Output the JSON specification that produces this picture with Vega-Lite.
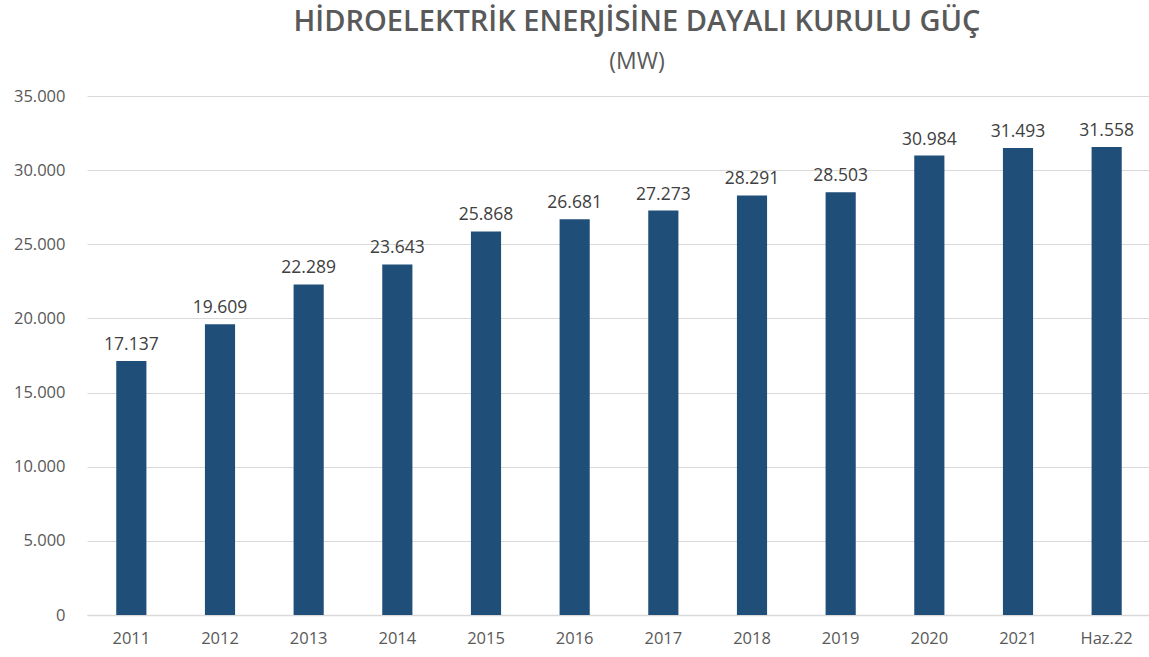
{
  "$schema": "https://vega.github.io/schema/vega-lite/v6.json",
  "autosize": {"type": "none"},
  "padding": {"left": 87, "top": 96, "right": 0, "bottom": 42},
  "width": 1064,
  "height": 519,
  "background": "white",
  "config": {
    "locale": {"number": {"decimal": ",", "thousands": ".", "grouping": [3], "currency": ["", ""]}},
    "view": {"stroke": null},
    "font": "Open Sans"
  },
  "title": {
    "text": "HİDROELEKTRİK ENERJİSİNE DAYALI KURULU GÜÇ",
    "subtitle": "(MW)",
    "anchor": "middle",
    "dx": 18,
    "offset": 14,
    "font": "Open Sans",
    "fontSize": 29,
    "fontWeight": 600,
    "color": "#595959",
    "subtitleFont": "Open Sans",
    "subtitleFontSize": 23,
    "subtitleColor": "#595959",
    "subtitlePadding": 14
  },
  "data": {
    "values": [
      {"yil": "2011", "mw": 17137},
      {"yil": "2012", "mw": 19609},
      {"yil": "2013", "mw": 22289},
      {"yil": "2014", "mw": 23643},
      {"yil": "2015", "mw": 25868},
      {"yil": "2016", "mw": 26681},
      {"yil": "2017", "mw": 27273},
      {"yil": "2018", "mw": 28291},
      {"yil": "2019", "mw": 28503},
      {"yil": "2020", "mw": 30984},
      {"yil": "2021", "mw": 31493},
      {"yil": "Haz.22", "mw": 31558}
    ]
  },
  "encoding": {
    "x": {
      "field": "yil", "type": "nominal", "sort": null,
      "scale": {"paddingInner": 0.66, "paddingOuter": 0.33},
      "axis": {
        "title": null, "labelAngle": 0, "ticks": false,
        "domainColor": "#d9d9d9", "domainWidth": 1.5,
        "labelColor": "#595959", "labelFontSize": 16.5, "labelPadding": 15
      }
    },
    "y": {
      "field": "mw", "type": "quantitative",
      "scale": {"domain": [0, 35000]},
      "axis": {
        "title": null, "values": [0, 5000, 10000, 15000, 20000, 25000, 30000, 35000],
        "format": ",d", "ticks": false, "domain": false,
        "gridColor": "#d9d9d9", "gridWidth": 1,
        "labelColor": "#595959", "labelFontSize": 16.5, "labelPadding": 22
      }
    }
  },
  "layer": [
    {"mark": {"type": "bar", "color": "#1F4E79"}},
    {
      "mark": {"type": "text", "dy": -16, "fontSize": 17.5, "color": "#404040"},
      "encoding": {"text": {"field": "mw", "type": "quantitative", "format": ",d"}}
    }
  ]
}
